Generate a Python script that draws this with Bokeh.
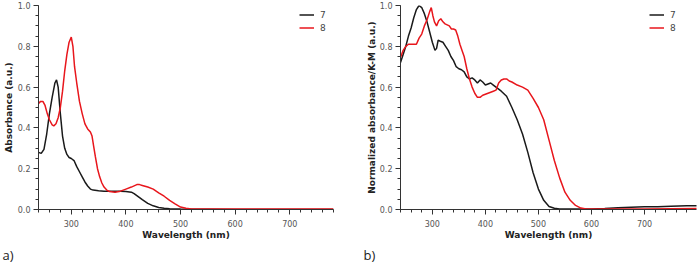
from bokeh.plotting import figure
from bokeh.layouts import row
from bokeh.models import (SingleIntervalTicker, PrintfTickFormatter, Legend,
                          LegendItem, Title)
from bokeh.embed import file_html
from bokeh.resources import INLINE

# ---- (a) solution absorbance ----
wl_a7 = [240, 245, 250, 255, 260, 265, 270, 273, 276, 280, 284, 288, 292, 296,
         300, 305, 310, 315, 320, 325, 330, 335, 340, 350, 360, 370, 380, 390,
         400, 410, 415, 420, 425, 430, 440, 450, 460, 470, 480, 490, 500, 520,
         550, 600, 650, 700, 780]
abs_a7 = [0.28, 0.275, 0.295, 0.37, 0.47, 0.55, 0.62, 0.635, 0.60, 0.47, 0.36,
          0.30, 0.27, 0.255, 0.25, 0.24, 0.21, 0.185, 0.16, 0.135, 0.115, 0.10,
          0.095, 0.092, 0.09, 0.09, 0.09, 0.09, 0.088, 0.085, 0.078, 0.068,
          0.058, 0.048, 0.03, 0.018, 0.01, 0.006, 0.004, 0.003, 0.002, 0.001,
          0.001, 0.0, 0.0, 0.0, 0.0]

wl_a8 = [240, 244, 248, 252, 256, 260, 265, 268, 272, 276, 280, 284, 288, 292,
         296, 300, 303, 306, 310, 315, 320, 325, 330, 335, 338, 341, 344, 348,
         352, 356, 360, 365, 370, 380, 390, 400, 410, 420, 425, 430, 440, 450,
         460, 470, 480, 490, 500, 510, 520, 530, 550, 600, 650, 700, 750, 780]
abs_a8 = [0.52, 0.53, 0.53, 0.51, 0.47, 0.44, 0.415, 0.41, 0.42, 0.45, 0.50,
          0.58, 0.68, 0.76, 0.82, 0.845, 0.80, 0.70, 0.62, 0.53, 0.47, 0.42,
          0.395, 0.38, 0.36, 0.31, 0.26, 0.20, 0.16, 0.13, 0.11, 0.095, 0.088,
          0.085, 0.09, 0.10, 0.11, 0.122, 0.122, 0.118, 0.11, 0.10, 0.082,
          0.065, 0.045, 0.028, 0.012, 0.006, 0.003, 0.002, 0.002, 0.002, 0.002,
          0.002, 0.002, 0.002]

# ---- (b) normalized absorbance / Kubelka-Munk ----
wl_b7 = [240, 245, 250, 255, 260, 265, 270, 275, 280, 285, 290, 295, 300, 305,
         308, 311, 315, 320, 325, 330, 335, 340, 345, 350, 355, 360, 365, 370,
         375, 380, 385, 390, 395, 400, 405, 410, 415, 420, 425, 430, 440, 450,
         460, 470, 480, 490, 500, 510, 520, 530, 540, 550, 575, 600, 625, 650,
         675, 700, 725, 750, 780, 800]
abs_b7 = [0.72, 0.76, 0.80, 0.85, 0.89, 0.94, 0.98, 1.0, 0.99, 0.96, 0.92,
          0.87, 0.82, 0.78, 0.79, 0.83, 0.825, 0.82, 0.80, 0.78, 0.75, 0.73,
          0.70, 0.69, 0.685, 0.675, 0.65, 0.64, 0.645, 0.635, 0.62, 0.635,
          0.625, 0.61, 0.615, 0.62, 0.61, 0.60, 0.59, 0.58, 0.555, 0.50, 0.44,
          0.37, 0.28, 0.18, 0.10, 0.045, 0.015, 0.006, 0.003, 0.002, 0.002,
          0.003, 0.005, 0.008, 0.011, 0.013, 0.014, 0.016, 0.018, 0.019]

wl_b8 = [240, 245, 250, 255, 260, 265, 270, 275, 280, 285, 290, 295, 298, 301,
         304, 308, 312, 316, 320, 324, 328, 332, 336, 340, 344, 348, 352, 356,
         360, 365, 370, 375, 380, 385, 390, 395, 400, 405, 410, 415, 420, 425,
         430, 435, 440, 445, 450, 460, 470, 480, 490, 500, 510, 520, 530, 540,
         550, 560, 570, 580, 590, 600, 650, 700, 750, 800]
abs_b8 = [0.745, 0.78, 0.80, 0.81, 0.81, 0.81, 0.81, 0.84, 0.86, 0.90, 0.93,
          0.97, 0.99, 0.95, 0.92, 0.90, 0.925, 0.935, 0.92, 0.91, 0.905, 0.90,
          0.885, 0.885, 0.88, 0.85, 0.81, 0.78, 0.75, 0.69, 0.64, 0.60, 0.57,
          0.55, 0.55, 0.56, 0.565, 0.57, 0.575, 0.58, 0.585, 0.62, 0.635, 0.64,
          0.64, 0.63, 0.625, 0.61, 0.60, 0.585, 0.545, 0.50, 0.44, 0.34, 0.24,
          0.155, 0.085, 0.045, 0.02, 0.007, 0.003, 0.002, 0.002, 0.003, 0.004,
          0.005]

series_names = ["7", "8"]
line_colors = ["#1a1a1a", "#e8161c"]

FONT = "DejaVu Sans"


def style_axes(p, ylabel, ylabel_standoff):
    p.outline_line_color = None
    p.xgrid.visible = False
    p.ygrid.visible = False
    p.background_fill_color = "white"
    p.border_fill_color = "white"

    p.xaxis.ticker = SingleIntervalTicker(interval=100, num_minor_ticks=5)
    p.yaxis.ticker = SingleIntervalTicker(interval=0.2, num_minor_ticks=4)
    p.yaxis.formatter = PrintfTickFormatter(format="%.1f")
    p.xaxis.axis_label = "Wavelength (nm)"
    p.yaxis.axis_label = ylabel

    for ax in (p.xaxis, p.yaxis):
        ax.axis_line_color = "#333333"
        ax.major_tick_line_color = "#333333"
        ax.minor_tick_line_color = "#333333"
        ax.major_tick_in = 0
        ax.major_tick_out = 5
        ax.minor_tick_in = 0
        ax.minor_tick_out = 3
        ax.major_label_text_font = FONT
        ax.major_label_text_font_size = "8px"
        ax.major_label_text_color = "#555555"
        ax.axis_label_text_font = FONT
        ax.axis_label_text_font_size = "9px"
        ax.axis_label_text_font_style = "bold"
        ax.axis_label_text_color = "#222222"
    p.xaxis.major_label_standoff = 5
    p.xaxis.axis_label_standoff = 0
    p.yaxis.major_label_standoff = 3
    p.yaxis.axis_label_standoff = ylabel_standoff


def make_panel(width, x_end, xs, ys, ylabel, ylabel_standoff, border_left,
               border_right, legend_x, tag, tag_offset):
    p = figure(width=width, height=265, x_range=(240, x_end), y_range=(0, 1.0),
               output_backend="svg", toolbar_location=None,
               min_border_left=border_left, min_border_right=border_right,
               min_border_top=5, min_border_bottom=0)
    style_axes(p, ylabel, ylabel_standoff)

    items = []
    for x, y, name, color in zip(xs, ys, series_names, line_colors):
        r = p.line(x, y, line_color=color, line_width=1.5)
        items.append(LegendItem(label=name, renderers=[r]))

    legend = Legend(items=items, location=(legend_x, 175),
                    border_line_alpha=0, background_fill_alpha=0,
                    padding=0, margin=0, spacing=0,
                    glyph_width=15, glyph_height=13, label_height=13,
                    label_standoff=6,
                    label_text_font=FONT, label_text_font_size="9px",
                    label_text_color="#444444")
    p.add_layout(legend)

    # panel tag beneath the x axis title
    p.add_layout(Title(text=tag, align="left", offset=tag_offset,
                       standoff=3, text_font="Open Sans",
                       text_font_size="13px", text_font_style="normal",
                       text_color="#222222"), "below")
    return p


pa = make_panel(348, 780, [wl_a7, wl_a8], [abs_a7, abs_a8],
                "Absorbance (a.u.)", 1, 38, 15, 261, "a)", -36)
pb = make_panel(349, 798, [wl_b7, wl_b8], [abs_b7, abs_b8],
                "Normalized absorbance/K-M (a.u.)", 0, 52, 1, 249, "b)", -37)

layout = row(pa, pb)
open("out.html", "w").write(file_html(layout, INLINE))
